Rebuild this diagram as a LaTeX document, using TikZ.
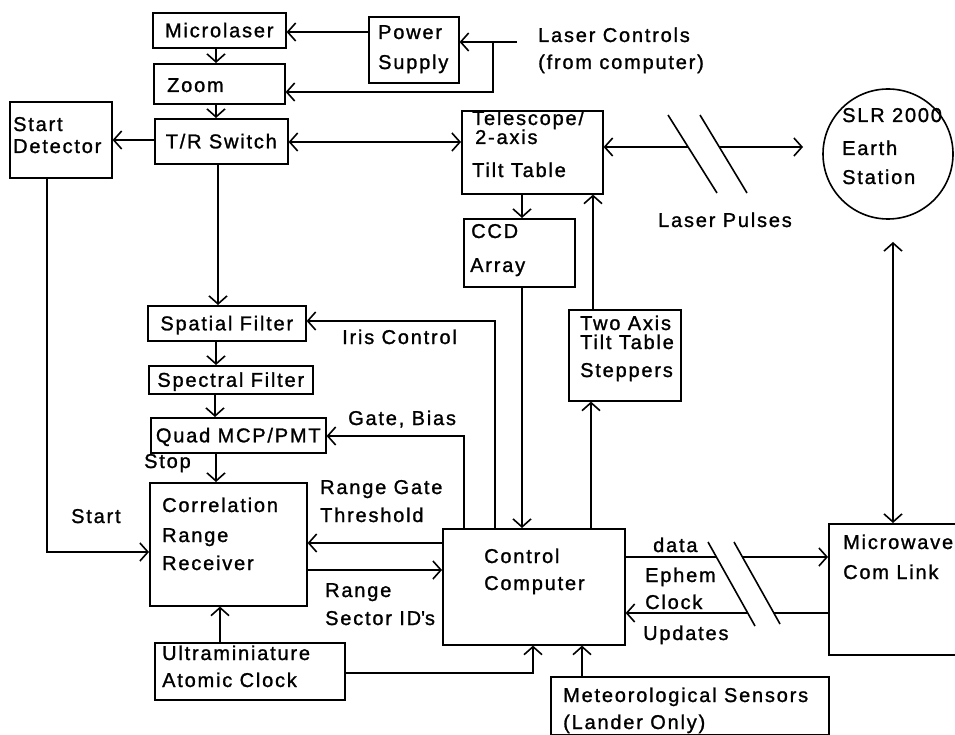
\documentclass[tikz,border=0pt]{standalone}
\usepackage{fontspec}
\setmainfont{Liberation Sans}[LetterSpace=9,FakeBold=1.2]
\usetikzlibrary{arrows.meta}
\begin{document}
\begin{tikzpicture}[x=1pt,y=-1pt,
  every node/.style={font=\fontsize{20}{24}\selectfont},
  box/.style={draw, line width=1.6pt, inner sep=0pt, anchor=north west, text height=14pt, text depth=0pt},
  lbl/.style={inner sep=0pt, anchor=west, text height=14pt, text depth=0pt},
  ln/.style={line width=1.6pt},
  tip/.tip={Straight Barb[length=8pt,width=18pt,line width=1.6pt]},
  arr/.style={ln, -tip},
  darr/.style={ln, tip-tip}]
\clip (0,0) rectangle (955,735);
\fill[white] (0,0) rectangle (955,735);
% boxes
\node[box, minimum width=133pt, minimum height=35pt] (ml) at (152,12) {Microlaser};
\node[box, minimum width=90pt, minimum height=66pt] (ps) at (368,16) {};
\node[box, minimum width=131pt, minimum height=40pt] (zm) at (153,63) {};
\node[box, minimum width=102pt, minimum height=76pt] (sd) at (9,101) {};
\node[box, minimum width=133pt, minimum height=45pt] (tr) at (154,118) {T/R Switch};
\node[box, minimum width=141pt, minimum height=83pt] (tel) at (461,110) {};
\node[box, minimum width=111pt, minimum height=68pt] (ccd) at (463,218) {};
\node[box, minimum width=112pt, minimum height=91pt] (two) at (568,309) {};
\node[box, minimum width=158pt, minimum height=35pt] (sf) at (147,305) {Spatial Filter};
\node[box, minimum width=164pt, minimum height=28pt] (spf) at (148,365) {Spectral Filter};
\node[box, minimum width=175pt, minimum height=35pt] (qm) at (150,417) {Quad MCP/PMT};
\node[box, minimum width=157pt, minimum height=123pt] (cr) at (149,482) {};
\node[box, minimum width=182pt, minimum height=116pt] (cc) at (442,528) {};
\node[box, minimum width=190pt, minimum height=57pt] (uc) at (154,642) {};
\node[box, minimum width=278pt, minimum height=58pt] (met) at (550,676) {};
\node[box, minimum width=140pt, minimum height=131pt] (mw) at (828,523) {};
\node[draw, circle, line width=1.6pt, minimum size=130pt, inner sep=0pt] (slr) at (888,154) {};
% labels
\node[lbl] (t1) at (378,32) {Power};
\node[lbl] (t2) at (378,62) {Supply};
\node[lbl] (t3) at (538,35) {Laser Controls};
\node[lbl] (t4) at (538,62) {(from computer)};
\node[lbl] (t5) at (167,85) {Zoom};
\node[lbl] (t6) at (13,124) {Start};
\node[lbl] (t7) at (13,146) {Detector};
\node[lbl] (t8) at (472,118) {Telescope/};
\node[lbl] (t9) at (475,137) {2-axis};
\node[lbl] (t10) at (472,170) {Tilt Table};
\node[lbl] (t11) at (471,231) {CCD};
\node[lbl] (t12) at (470,265) {Array};
\node[lbl] (t13) at (658,220) {Laser Pulses};
\node[lbl] (t14) at (842,115) {SLR 2000};
\node[lbl] (t15) at (842,148) {Earth};
\node[lbl] (t16) at (842,177) {Station};
\node[lbl] (t17) at (342,337) {Iris Control};
\node[lbl] (t18) at (580,323) {Two Axis};
\node[lbl] (t19) at (580,342) {Tilt Table};
\node[lbl] (t20) at (580,370) {Steppers};
\node[lbl] (t21) at (348,418) {Gate, Bias};
\node[lbl] (t22) at (144,461) {Stop};
\node[lbl] (t23) at (320,487) {Range Gate};
\node[lbl] (t24) at (320,515) {Threshold};
\node[lbl] (t25) at (71,516) {Start};
\node[lbl] (t26) at (162,505) {Correlation};
\node[lbl] (t27) at (162,535) {Range};
\node[lbl] (t28) at (162,563) {Receiver};
\node[lbl] (t29) at (325,590) {Range};
\node[lbl] (t30) at (325,618) {Sector ID\textquotesingle s};
\node[lbl] (t31) at (484,556) {Control};
\node[lbl] (t32) at (484,583) {Computer};
\node[lbl] (t33) at (653,545) {data};
\node[lbl] (t34) at (645,575) {Ephem};
\node[lbl] (t35) at (645,602) {Clock};
\node[lbl] (t36) at (643,633) {Updates};
\node[lbl] (t37) at (843,542) {Microwave};
\node[lbl] (t38) at (843,572) {Com Link};
\node[lbl] (t39) at (162,653) {Ultraminiature};
\node[lbl] (t40) at (162,680) {Atomic Clock};
\node[lbl] (t41) at (563,695) {Meteorological Sensors};
\node[lbl] (t42) at (563,722) {(Lander Only)};
% coordinates for free ends
\coordinate (lc) at (517,42);
\coordinate (lj) at (493,42);
\coordinate (p1) at (688,147);
\coordinate (p2) at (719,147);
\coordinate (lp) at (803,147);
\coordinate (slrtip) at (893,242);
\coordinate (q1) at (716,557);
\coordinate (q2) at (742,557);
\coordinate (q3) at (774,613);
\coordinate (q4) at (748,613);
% connectors
\draw[arr] (ps.west |- 0,32) -- (ml.east |- 0,32);
\draw[arr] (lc) -- (ps.east |- lc);
\draw[arr] (lj) -- (493,92) -- (zm.east |- 0,92);
\draw[arr] (ml.south -| 216,0) -- (zm.north -| 216,0);
\draw[arr] (zm.south -| 216,0) -- (tr.north -| 216,0);
\draw[arr] (tr.west |- 0,140) -- (sd.east |- 0,140);
\draw[darr] (tr.east |- 0,142) -- (tel.west |- 0,142);
\draw[arr] (tr.south -| 218,0) -- (sf.north -| 218,0);
\draw[arr] (sd.south -| 47,0) |- (cr.west |- 0,552);
\draw[arr] (tel.south -| 522,0) -- (ccd.north -| 522,0);
\draw[arr] (ccd.south -| 522,0) -- (cc.north -| 522,0);
\draw[arr] (two.north -| 593,0) -- (tel.south -| 593,0);
\draw[arr] (cc.north -| 591,0) -- (two.south -| 591,0);
\draw[arr] (cc.north -| 495,0) |- (sf.east |- 0,321);
\draw[arr] (cc.north -| 464,0) |- (qm.east |- 0,436);
\draw[arr] (sf.south -| 216,0) -- (spf.north -| 216,0);
\draw[arr] (spf.south -| 215,0) -- (qm.north -| 215,0);
\draw[arr] (qm.south -| 216,0) -- (cr.north -| 216,0);
\draw[arr] (cc.west |- 0,543) -- (cr.east |- 0,543);
\draw[arr] (cr.east |- 0,570) -- (cc.west |- 0,570);
\draw[arr] (uc.north -| 220,0) -- (cr.south -| 220,0);
\draw[arr] (uc.east |- 0,673) -| (cc.south -| 533,0);
\draw[arr] (met.north -| 582,0) -- (cc.south -| 582,0);
% laser pulses link
\draw[ln] (668,115) -- (717,193);
\draw[ln] (700,115) -- (747,193);
\draw[arr] (p1) -- (tel.east |- p1);
\draw[arr] (p2) -- (lp);
% earth station link
\draw[darr] (slrtip) -- (mw.north -| slrtip);
% microwave link
\draw[ln] (708,542) -- (755,626);
\draw[ln] (734,542) -- (780,624);
\draw[ln] (cc.east |- q1) -- (q1);
\draw[arr] (q2) -- (mw.west |- q2);
\draw[ln] (mw.west |- q3) -- (q3);
\draw[arr] (q4) -- (cc.east |- q4);
\end{tikzpicture}
\end{document}
